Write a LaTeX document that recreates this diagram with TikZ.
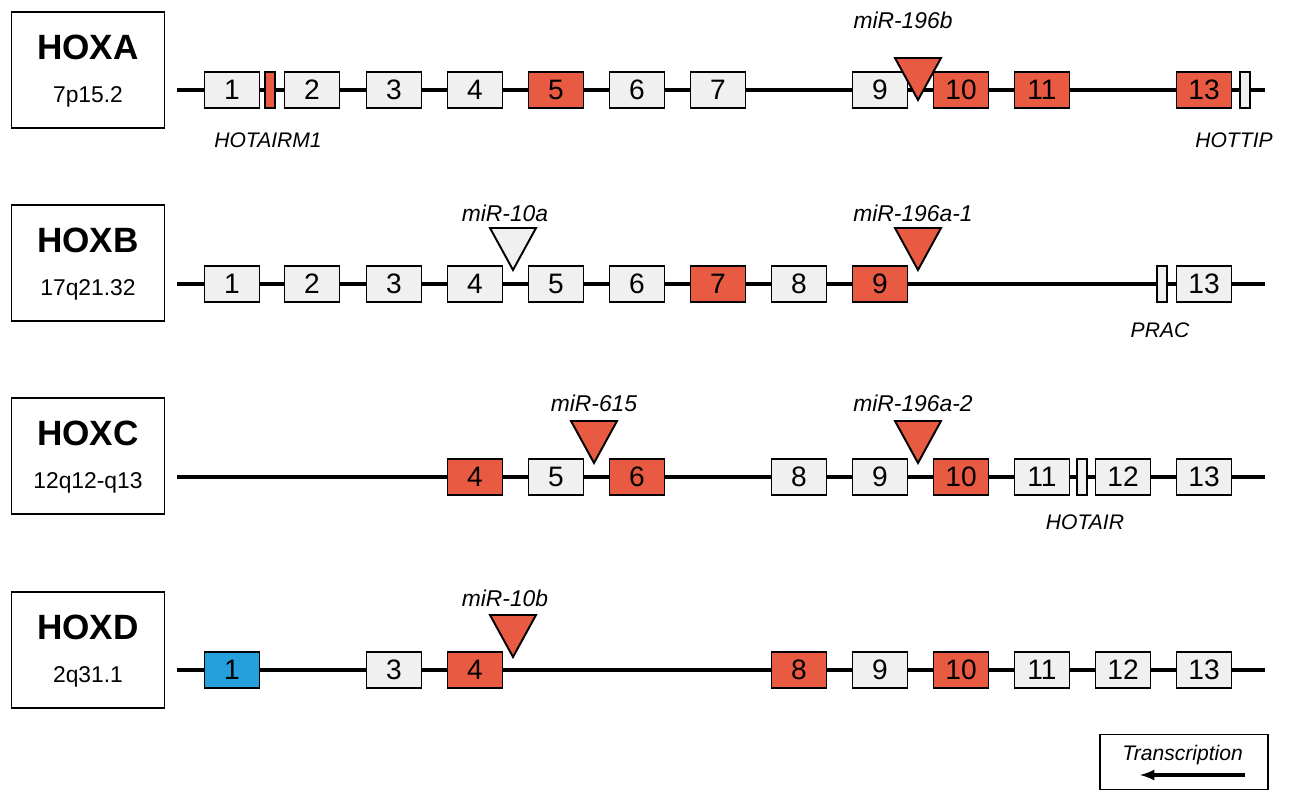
\documentclass[tikz,border=0pt]{standalone}
\usepackage{fontspec}
\setmainfont{Liberation Sans}
\usetikzlibrary{positioning}
\definecolor{hoxred}{RGB}{232,90,66}
\definecolor{hoxgrey}{RGB}{240,240,240}
\definecolor{hoxblue}{RGB}{38,160,220}
\begin{document}
\begin{tikzpicture}[x=0.02cm,y=-0.02cm,
  exon/.style={rectangle, draw, line width=1.1pt, fill=hoxgrey, minimum width=1.1cm, minimum height=0.72cm, inner sep=0pt, font=\fontsize{16}{18}\selectfont},
  redexon/.style={exon, fill=hoxred},
  blueexon/.style={exon, fill=hoxblue},
  stub/.style={exon, minimum width=0.2cm},
  mirna/.style={draw, line width=1.1pt, fill=hoxred},
  mirlabel/.style={font=\fontsize{13}{15}\selectfont\itshape},
  rnalabel/.style={font=\fontsize{12}{14}\selectfont\itshape},
  clusterbox/.style={rectangle, draw, line width=1.1pt, minimum width=3.06cm, minimum height=2.32cm},
  backbone/.style={line width=1.8pt}]
\useasboundingbox (0,0) rectangle (1295,800);

% HOXA
\node[clusterbox] (boxA) at (88,70) {};
\node[font=\fontsize{20}{23}\selectfont\bfseries] at (88,47) {HOXA};
\node[font=\fontsize{13}{15}\selectfont] at (88,97) {7p15.2};
\coordinate (startA) at (177,90);
\coordinate (endA) at (1265,90);
\draw[backbone] (startA) -- (endA);
\foreach \n/\x/\s in {1/232/exon, 2/312/exon, 3/394/exon, 4/475/exon, 5/556/redexon, 6/637/exon, 7/718/exon, 9/880/exon, 10/961/redexon, 11/1042/redexon, 13/1204/redexon}
  \node[\s] (A\n) at (\x,90) {\n};
\node[stub, fill=hoxred] (Asa) at (270,90) {};
\node[stub] (Asb) at (1245,90) {};
\draw[mirna] (895,58) -- (941,58) -- (918,100) -- cycle;
\node[mirlabel] (mirA) at (903,20) {miR-196b};
\node[rnalabel] (hotairm) at (268,140) {HOTAIRM1};
\node[rnalabel] (hottip) at (1234,140) {HOTTIP};

% HOXB
\node[clusterbox] (boxB) at (88,263) {};
\node[font=\fontsize{20}{23}\selectfont\bfseries] at (88,240) {HOXB};
\node[font=\fontsize{13}{15}\selectfont] at (88,290) {17q21.32};
\coordinate (startB) at (177,284);
\coordinate (endB) at (1265,284);
\draw[backbone] (startB) -- (endB);
\foreach \n/\x/\s in {1/232/exon, 2/312/exon, 3/394/exon, 4/475/exon, 5/556/exon, 6/637/exon, 7/718/redexon, 8/799/exon, 9/880/redexon, 13/1204/exon}
  \node[\s] (B\n) at (\x,284) {\n};
\node[stub] (Bs) at (1162,284) {};
\draw[mirna, fill=hoxgrey] (490,228) -- (536,228) -- (513,270) -- cycle;
\draw[mirna] (895,228) -- (941,228) -- (918,270) -- cycle;
\node[mirlabel] (mirB1) at (505,213) {miR-10a};
\node[mirlabel] (mirB2) at (913,213) {miR-196a-1};
\node[rnalabel] (prac) at (1160,330) {PRAC};

% HOXC
\node[clusterbox] (boxC) at (88,456) {};
\node[font=\fontsize{20}{23}\selectfont\bfseries] at (88,433) {HOXC};
\node[font=\fontsize{13}{15}\selectfont] at (88,483) {12q12-q13};
\coordinate (startC) at (177,477);
\coordinate (endC) at (1265,477);
\draw[backbone] (startC) -- (endC);
\foreach \n/\x/\s in {4/475/redexon, 5/556/exon, 6/637/redexon, 8/799/exon, 9/880/exon, 10/961/redexon, 11/1042/exon, 12/1123/exon, 13/1204/exon}
  \node[\s] (C\n) at (\x,477) {\n};
\node[stub] (Cs) at (1082,477) {};
\draw[mirna] (571,421) -- (617,421) -- (594,463) -- cycle;
\draw[mirna] (895,421) -- (941,421) -- (918,463) -- cycle;
\node[mirlabel] (mirC1) at (594,403) {miR-615};
\node[mirlabel] (mirC2) at (913,403) {miR-196a-2};
\node[rnalabel] (hotair) at (1085,522) {HOTAIR};

% HOXD
\node[clusterbox] (boxD) at (88,650) {};
\node[font=\fontsize{20}{23}\selectfont\bfseries] at (88,627) {HOXD};
\node[font=\fontsize{13}{15}\selectfont] at (88,677) {2q31.1};
\coordinate (startD) at (177,670);
\coordinate (endD) at (1265,670);
\draw[backbone] (startD) -- (endD);
\foreach \n/\x/\s in {1/232/blueexon, 3/394/exon, 4/475/redexon, 8/799/redexon, 9/880/exon, 10/961/redexon, 11/1042/exon, 12/1123/exon, 13/1204/exon}
  \node[\s] (D\n) at (\x,670) {\n};
\draw[mirna] (490,615) -- (536,615) -- (513,657) -- cycle;
\node[mirlabel] (mirD) at (505,598) {miR-10b};

% legend
\node[rectangle, draw, line width=1.1pt, minimum width=3.36cm, minimum height=1.1cm] (legend) at (1184,762) {};
\node[rnalabel, below left=0.1cm and 0.4cm of legend.north east, anchor=north east] (trans) {Transcription};
\coordinate (arrS) at (1245,775);
\coordinate (arrE) at (1140,775);
\draw[-latex, line width=1.8pt] (arrS) -- (arrE);
\end{tikzpicture}
\end{document}
